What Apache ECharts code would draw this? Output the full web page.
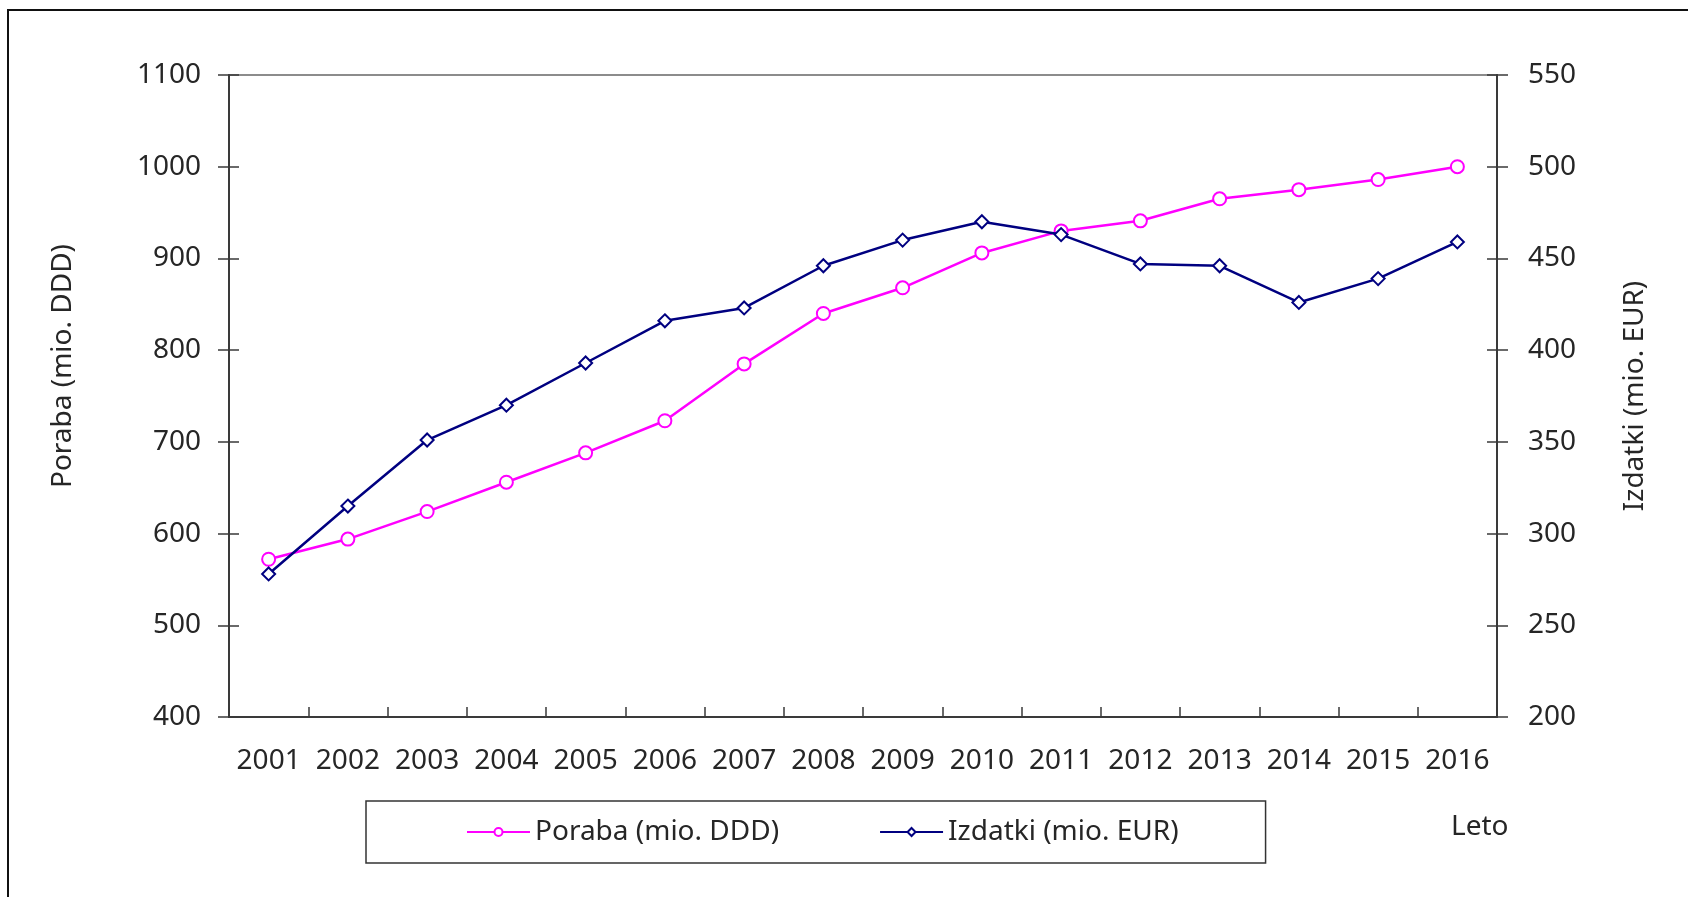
<!DOCTYPE html>
<html>
<head>
<meta charset="utf-8">
<script src="https://cdn.jsdelivr.net/npm/echarts@6/dist/echarts.min.js"></script>
<style>
  html, body { margin: 0; padding: 0; background: #fff; }
  #chart { width: 1688px; height: 897px; }
</style>
</head>
<body>
<div id="chart"></div>
<script>
const years = ["2001", "2002", "2003", "2004", "2005", "2006", "2007", "2008",
  "2009", "2010", "2011", "2012", "2013", "2014", "2015", "2016"];
const poraba = [572, 594, 624, 656, 688, 723, 785, 840, 868, 906, 930, 941, 965, 975, 986, 1000];
const izdatki = [278, 315, 351, 370, 393, 416, 423, 446, 460, 470, 463, 447, 446, 426, 439, 459];

const FONT = "Noto Sans";
const FS = 28;
const TEXT = "#262626";
const AXIS = "#3a3a3a";

const chart = echarts.init(document.getElementById("chart"));

// second set of axes only draws the inner half of the crossing ticks
function tickOnlyY(position, min, max, interval) {
  return {
    type: "value",
    position: position,
    min: min,
    max: max,
    interval: interval,
    axisLine: { show: false },
    axisTick: { show: true, inside: true, length: 10, lineStyle: { color: AXIS, width: 1.5 } },
    axisLabel: { show: false },
    splitLine: { show: false },
  };
}

const plain = (v) => String(v);

const options = {
  backgroundColor: "#fff",
  animation: false,
  textStyle: { fontFamily: FONT, color: TEXT },
  grid: {
    left: 229,
    right: 191,
    top: 75,
    bottom: 180,
    show: true,
    borderColor: "#8c8c8c",
    borderWidth: 2,
  },
  legend: {
    data: ["Poraba (mio. DDD)", "Izdatki (mio. EUR)"],
    left: 366,
    top: 801,
    padding: [17, 87, 17, 100],
    itemGap: 100,
    itemWidth: 63,
    itemHeight: 10,
    borderColor: "#333",
    borderWidth: 1.5,
    textStyle: { fontFamily: FONT, fontSize: FS, color: TEXT },
  },
  xAxis: [
    {
      type: "category",
      data: years,
      boundaryGap: true,
      name: "Leto",
      nameLocation: "end",
      nameGap: -46,
      nameTextStyle: {
        fontFamily: FONT,
        fontSize: FS,
        color: TEXT,
        align: "left",
        verticalAlign: "top",
        padding: [96, 0, 0, 0],
      },
      axisLine: { lineStyle: { color: AXIS, width: 2 } },
      axisTick: { length: 11, lineStyle: { color: AXIS, width: 1.5 } },
      axisLabel: { interval: 0, margin: 30, fontSize: FS, color: TEXT, fontFamily: FONT },
      splitLine: { show: false },
    },
    {
      type: "category",
      data: years,
      boundaryGap: true,
      position: "bottom",
      axisLine: { show: false },
      axisTick: { show: true, inside: true, length: 10, lineStyle: { color: AXIS, width: 1.5 } },
      axisLabel: { show: false },
    },
  ],
  yAxis: [
    {
      type: "value",
      position: "left",
      min: 400,
      max: 1100,
      interval: 100,
      name: "Poraba (mio. DDD)",
      nameLocation: "middle",
      nameGap: 152,
      nameRotate: 90,
      nameTextStyle: { fontFamily: FONT, fontSize: FS, color: TEXT, padding: [0, 0, 0, 60] },
      axisLine: { show: true, lineStyle: { color: AXIS, width: 2 } },
      axisTick: { show: true, length: 11, lineStyle: { color: AXIS, width: 1.5 } },
      axisLabel: { margin: 28, fontSize: FS, color: TEXT, fontFamily: FONT, formatter: plain },
      splitLine: { show: false },
    },
    {
      type: "value",
      position: "right",
      min: 200,
      max: 550,
      interval: 50,
      name: "Izdatki (mio. EUR)",
      nameLocation: "middle",
      nameGap: 124,
      nameRotate: 90,
      nameTextStyle: { fontFamily: FONT, fontSize: FS, color: TEXT },
      axisLine: { show: true, lineStyle: { color: AXIS, width: 2 } },
      axisTick: { show: true, length: 11, lineStyle: { color: AXIS, width: 1.5 } },
      axisLabel: { margin: 31, fontSize: FS, color: TEXT, fontFamily: FONT, formatter: plain },
      splitLine: { show: false },
    },
    tickOnlyY("left", 400, 1100, 100),
    tickOnlyY("right", 200, 550, 50),
  ],
  series: [
    {
      name: "Poraba (mio. DDD)",
      type: "line",
      xAxisIndex: 0,
      yAxisIndex: 0,
      data: poraba,
      symbol: "emptyCircle",
      symbolSize: 13,
      lineStyle: { color: "#FF00FF", width: 2.5 },
      itemStyle: { color: "#FF00FF", borderWidth: 2.2 },
      z: 3,
    },
    {
      name: "Izdatki (mio. EUR)",
      type: "line",
      xAxisIndex: 0,
      yAxisIndex: 1,
      data: izdatki,
      symbol: "emptyDiamond",
      symbolSize: 13,
      lineStyle: { color: "#000080", width: 2.5 },
      itemStyle: { color: "#000080", borderWidth: 2.2 },
      z: 4,
    },
  ],
  graphic: [
    {
      type: "polyline",
      shape: { points: [[8, 897], [8, 10], [1688, 10]] },
      style: { stroke: "#111", lineWidth: 2, fill: null },
    },
  ],
};

chart.setOption(options);
</script>
</body>
</html>
